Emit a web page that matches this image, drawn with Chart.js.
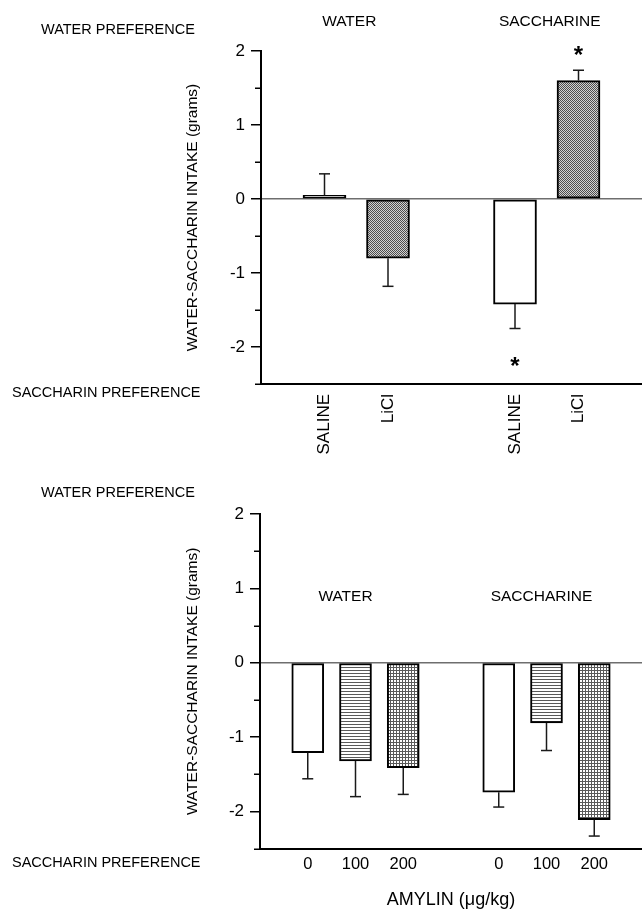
<!DOCTYPE html>
<html><head><meta charset="utf-8">
<script src="https://cdn.jsdelivr.net/npm/chart.js@4.4.0/dist/chart.umd.min.js"></script>
<style>
html,body{margin:0;padding:0;background:#fff;}
#wrap{position:relative;width:642px;height:911px;overflow:hidden;background:#fff;}
canvas{position:absolute;left:0;}
</style></head><body>
<div id="wrap">
<canvas id="topChart" width="642" height="460" style="top:0px"></canvas>
<canvas id="bottomChart" width="642" height="451" style="top:460px"></canvas>
</div>
<script>
// ---------- data ----------
const topCategories = ['', 'SALINE', 'LiCl', '', 'SALINE', 'LiCl', ''];
const topGroups = ['WATER', 'SACCHARINE'];
const topValues = [null, 0.05, -0.80, null, -1.42, 1.60, null];
const topErrors = [null, 0.29, 0.38, null, 0.33, 0.14, null];
const topStars = [null, null, null, null, -2.19, 2.01, null];

const bottomCategories = ['', '0', '100', '200', '', '0', '100', '200', ''];
const bottomGroups = ['WATER', 'SACCHARINE'];
const bottomValues = [null, -1.21, -1.32, -1.41, null, -1.74, -0.81, -2.11, null];
const bottomErrors = [null, 0.35, 0.48, 0.36, null, 0.20, 0.37, 0.22, null];
const bottomStars = [null, null, null, null, null, null, null, null, null];

const yMin = -2.5, yMax = 2, yStep = 0.5;
const yTitle = 'WATER-SACCHARIN INTAKE (grams)';
const bottomXTitle = 'AMYLIN (\u03BCg/kg)';
const upperPref = 'WATER PREFERENCE';
const lowerPref = 'SACCHARIN PREFERENCE';

// ---------- styles ----------
const FONT = '"Liberation Sans", Arial, Helvetica, sans-serif';
function makePattern(kind) {
  const c = document.createElement('canvas');
  const g = c.getContext('2d');
  if (kind === 'stipple') {
    c.width = 2; c.height = 2;
    g.fillStyle = '#d2d2d2'; g.fillRect(0, 0, 2, 2);
    g.fillStyle = '#4d4d4d'; g.fillRect(0, 0, 1, 1); g.fillRect(1, 1, 1, 1);
  } else if (kind === 'hlines') {
    c.width = 4; c.height = 3;
    g.fillStyle = '#ffffff'; g.fillRect(0, 0, 4, 3);
    g.fillStyle = '#5a5a5a'; g.fillRect(0, 0, 4, 1);
  } else if (kind === 'grid') {
    c.width = 3; c.height = 3;
    g.fillStyle = '#ffffff'; g.fillRect(0, 0, 3, 3);
    g.fillStyle = '#5a5a5a'; g.fillRect(0, 0, 3, 1); g.fillRect(0, 0, 1, 3);
  }
  return g.createPattern(c, 'repeat');
}
const fills = {
  'SALINE': '#ffffff', 'LiCl': makePattern('stipple'),
  '0': '#ffffff', '100': makePattern('hlines'), '200': makePattern('grid'), '': '#ffffff'
};

function groupRanges(cats) {
  const out = []; let start = null;
  cats.forEach((c, i) => {
    if (c !== '' && start === null) start = i;
    if (c === '' && start !== null) { out.push([start, i - 1]); start = null; }
  });
  if (start !== null) out.push([start, cats.length - 1]);
  return out;
}

const extras = {
  id: 'extras',
  afterDraw(chart, args, o) {
    const ctx = chart.ctx, x = chart.scales.x, y = chart.scales.y;
    ctx.save();
    // minor ticks
    ctx.strokeStyle = '#000'; ctx.lineWidth = 1.5;
    y.ticks.forEach(t => {
      if (!Number.isInteger(t.value)) {
        const py = Math.round(y.getPixelForValue(t.value)) + 0.25;
        ctx.beginPath(); ctx.moveTo(y.right - 6, py); ctx.lineTo(y.right, py); ctx.stroke();
      }
    });
    // error bars
    ctx.strokeStyle = '#1a1a1a'; ctx.lineWidth = 1.5;
    o.values.forEach((v, i) => {
      if (v == null) return;
      const px = x.getPixelForValue(i);
      const end = v >= 0 ? v + o.errors[i] : v - o.errors[i];
      const p0 = y.getPixelForValue(v), p1 = y.getPixelForValue(end);
      ctx.beginPath(); ctx.moveTo(px, p0); ctx.lineTo(px, p1); ctx.stroke();
      ctx.beginPath(); ctx.moveTo(px - 5.5, p1); ctx.lineTo(px + 5.5, p1); ctx.stroke();
    });
    // asterisks
    ctx.fillStyle = '#000';
    ctx.font = 'bold 24px ' + FONT; ctx.textAlign = 'center'; ctx.textBaseline = 'alphabetic';
    o.stars.forEach((s, i) => {
      if (s == null) return;
      ctx.fillText('*', x.getPixelForValue(i), y.getPixelForValue(s) + 13);
    });
    // group headers
    ctx.font = '15.5px ' + FONT; ctx.textBaseline = 'middle'; ctx.textAlign = 'center';
    groupRanges(o.categories).forEach((r, k) => {
      const cx = (x.getPixelForValue(r[0]) + x.getPixelForValue(r[1])) / 2 + o.headerShift[k];
      ctx.fillText(o.groups[k], cx, y.getPixelForValue(o.headerValue));
    });
    // preference labels
    ctx.font = '14.5px ' + FONT; ctx.textAlign = 'left';
    ctx.fillText(upperPref, 41, y.getPixelForValue(yMax) - 21);
    ctx.fillText(lowerPref, 12, y.getPixelForValue(yMin) + o.lowerPrefGap);
    ctx.restore();
  }
};

function build(canvasId, cats, vals, errs, stars, groups, cfg) {
  return new Chart(document.getElementById(canvasId), {
    type: 'bar',
    data: {
      labels: cats,
      datasets: [{
        data: vals,
        backgroundColor: cats.map(c => fills[c]),
        borderColor: '#000',
        borderWidth: 2,
        borderSkipped: false,
        barThickness: cfg.barThickness
      }]
    },
    options: {
      responsive: false, animation: false, devicePixelRatio: 1, events: [],
      layout: { padding: { left: 183, top: cfg.top, right: 0, bottom: 0 } },
      plugins: {
        legend: { display: false }, tooltip: { enabled: false },
        extras: { values: vals, errors: errs, stars: stars, groups: groups, categories: cats,
                  headerValue: cfg.headerValue, headerShift: cfg.headerShift, lowerPrefGap: cfg.lowerPrefGap }
      },
      scales: {
        x: {
          type: 'category', offset: false,
          grid: { display: false, drawTicks: false },
          border: { display: true, color: '#000', width: 2 },
          ticks: { autoSkip: false, color: '#000', font: { family: FONT, size: cfg.xFont },
                   minRotation: cfg.rot, maxRotation: cfg.rot, padding: cfg.xPad },
          title: cfg.xTitle ? { display: true, text: cfg.xTitle, color: '#000',
                   font: { family: FONT, size: 18 }, padding: { top: 0, bottom: 0 } } : { display: false },
          afterFit: s => { s.height = cfg.xHeight; s.paddingLeft = 0; s.paddingRight = 0; }
        },
        y: {
          min: yMin, max: yMax,
          ticks: { stepSize: yStep, color: '#000', padding: 6, font: { family: FONT, size: 17 },
                   callback: v => Number.isInteger(v) ? String(v) : '' },
          grid: {
            drawOnChartArea: true, tickLength: 10, tickWidth: 1.5, lineWidth: 1.5,
            color: c => (c.tick && c.tick.value === 0) ? '#6e6e6e' : 'rgba(0,0,0,0)',
            tickColor: c => (c.tick && Number.isInteger(c.tick.value)) ? '#000' : 'rgba(0,0,0,0)'
          },
          border: { display: true, color: '#000', width: 2 },
          title: { display: true, text: yTitle, color: '#000', font: { family: FONT, size: 15.5 },
                   padding: { top: 0, bottom: 0 } },
          afterFit: s => { s.width = cfg.yWidth; }
        }
      }
    },
    plugins: [extras]
  });
}

build('topChart', topCategories, topValues, topErrors, topStars, topGroups, {
  barThickness: 43, top: 51, xFont: 17, rot: 90, xPad: 10, xHeight: 76, yWidth: 78,
  headerValue: 2.39, headerShift: [-7, 3], lowerPrefGap: 9, xTitle: null
});
build('bottomChart', bottomCategories, bottomValues, bottomErrors, bottomStars, bottomGroups, {
  barThickness: 32, top: 54, xFont: 16.5, rot: 0, xPad: 6, xHeight: 62.3, yWidth: 77,
  headerValue: 0.89, headerShift: [-10, -5], lowerPrefGap: 14, xTitle: bottomXTitle
});
</script>
</body></html>
